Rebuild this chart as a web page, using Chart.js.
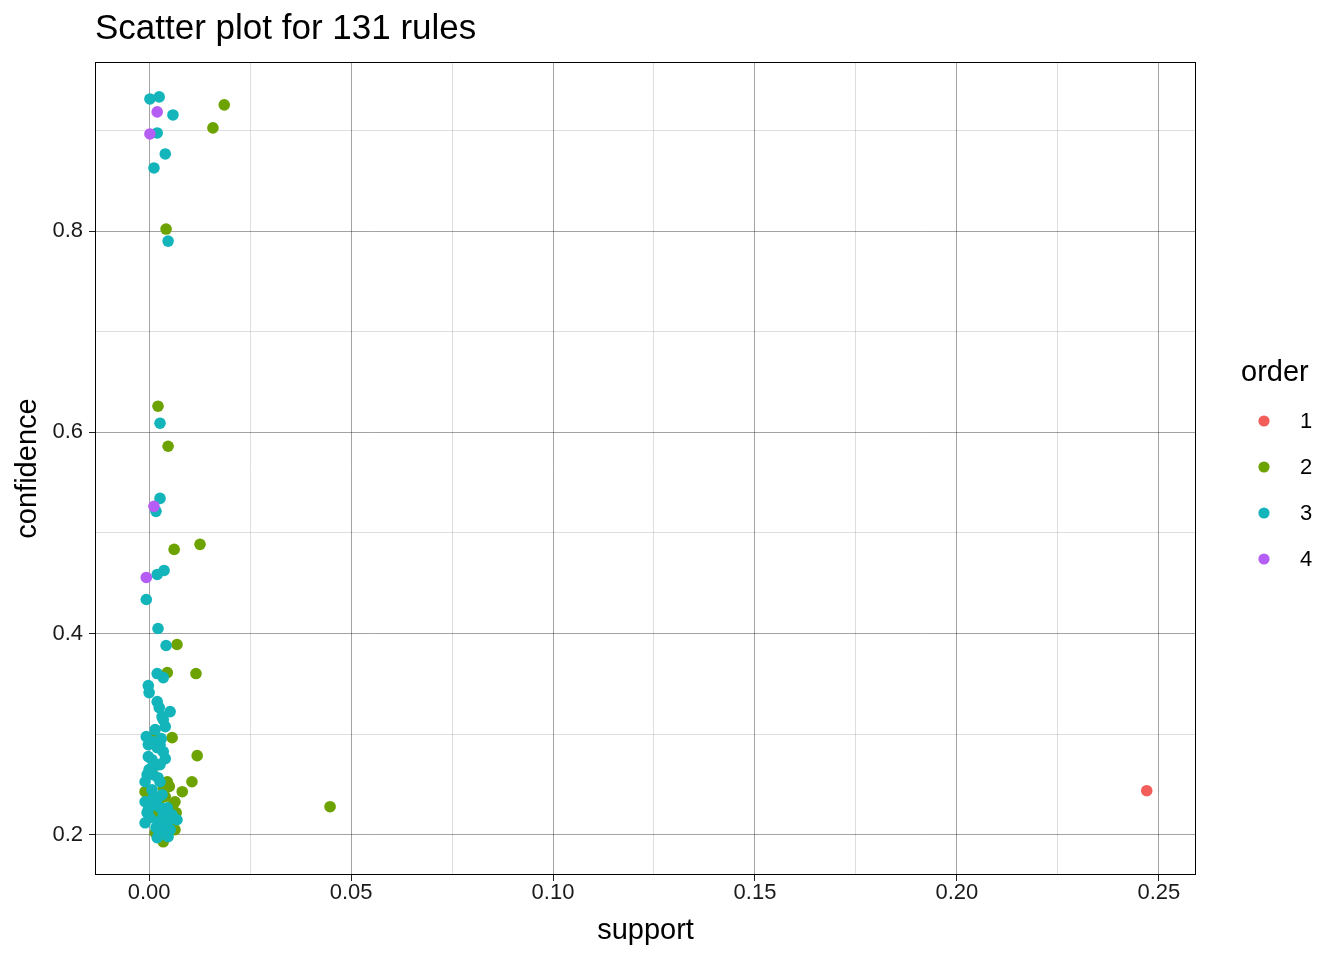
<!DOCTYPE html>
<html>
<head>
<meta charset="utf-8">
<script src="https://cdn.jsdelivr.net/npm/chart.js@4/dist/chart.umd.min.js"></script>
<style>
  body { margin: 0; background: #fff; }
  #wrap { width: 1344px; height: 960px; }
</style>
</head>
<body>
<div id="wrap"><canvas id="scatter"></canvas></div>
<script>
// ========================
// DATA
// ========================
const orderLabels = ["1", "2", "3", "4"];
const orderColors = ["#F35E5A", "#6DA300", "#13B5BB", "#B45EF6"];

const supp1 = [0.2470];
const conf1 = [0.2438];

const supp2 = [0.0186, 0.0158, 0.0042, 0.0022, 0.0047, 0.0062, 0.0126, 0.0069, 0.0045, 0.0116,
  0.0012, 0.0057, 0.0119, 0.0007, 0.0045, 0.0106, 0.0035, 0.0082, 0.0059, 0.0020,
  0.0057, 0.0022, 0.0035, 0.0448, -0.0010, 0.0064, 0.0064, 0.0015, 0.0052, 0.0027,
  0.0047, 0.0002, 0.0067, 0.0040, 0.0030, 0.0010, 0.0050];
const conf2 = [0.9254, 0.9025, 0.8020, 0.6259, 0.5861, 0.4836, 0.4886, 0.3891, 0.3612, 0.3602,
  0.2975, 0.2965, 0.2786, 0.2647, 0.2527, 0.2527, 0.2468, 0.2428, 0.2299, 0.2249,
  0.2149, 0.2020, 0.1930, 0.2279, 0.2428, 0.2328, 0.2050, 0.2020, 0.2219, 0.2358,
  0.2100, 0.2398, 0.2219, 0.2380, 0.2090, 0.2200, 0.2480];

const supp3 = [0.0002, 0.0025, 0.0059, 0.0020, 0.0040, 0.0012, 0.0047, 0.0027, 0.0027, 0.0017,
  0.0037, 0.0020, -0.0007, 0.0022, 0.0042, 0.0020, 0.0035, -0.0002, 0.0000, 0.0020,
  0.0025, 0.0052, 0.0032, 0.0035, 0.0040, -0.0007, 0.0030, 0.0010, -0.0002, 0.0020,
  0.0035, -0.0002, 0.0040, 0.0022, -0.0005, 0.0022, -0.0010, 0.0027, -0.0010, 0.0022,
  -0.0005, 0.0040, 0.0069, -0.0010, 0.0022, 0.0045, 0.0032, 0.0047, 0.0007, 0.0015,
  0.0027, 0.0002, 0.0017, 0.0037, 0.0052, 0.0010, 0.0032, -0.0002, 0.0027, 0.0007,
  0.0015, 0.0027, 0.0010, 0.0035, 0.0020, 0.0045, 0.0057, 0.0000];
const conf3 = [0.9313, 0.9333, 0.9154, 0.8975, 0.8766, 0.8627, 0.7900, 0.6090, 0.5343, 0.5214,
  0.4627, 0.4587, 0.4338, 0.4050, 0.3881, 0.3602, 0.3562, 0.3483, 0.3413, 0.3323,
  0.3264, 0.3224, 0.3174, 0.3144, 0.3075, 0.2975, 0.2955, 0.2925, 0.2896, 0.2866,
  0.2826, 0.2776, 0.2756, 0.2697, 0.2597, 0.2567, 0.2527, 0.2527, 0.2328, 0.2368,
  0.2219, 0.2219, 0.2149, 0.2119, 0.2129, 0.2119, 0.2030, 0.1980, 0.2448, 0.2299,
  0.2269, 0.2169, 0.2070, 0.2100, 0.2050, 0.2368, 0.2398, 0.2249, 0.2697, 0.2746,
  0.3045, 0.2896, 0.2597, 0.2199, 0.1970, 0.2269, 0.2199, 0.2647];

const supp4 = [0.0020, 0.0002, 0.0012, -0.0007];
const conf4 = [0.9184, 0.8965, 0.5264, 0.4557];

const xMajor = [0.00, 0.05, 0.10, 0.15, 0.20, 0.25];
const xMinor = [0.025, 0.075, 0.125, 0.175, 0.225];
const yMajor = [0.2, 0.4, 0.6, 0.8];
const yMinor = [0.3, 0.5, 0.7, 0.9];

// ========================
// HELPERS
// ========================
const FONT = "'Liberation Sans', Arial, Helvetica, sans-serif";
const MAJOR_GRID = "rgba(0,0,0,0.36)";
const MINOR_GRID = "rgba(0,0,0,0.13)";

function toPoints(xs, ys) {
  return xs.map((x, i) => ({ x: x, y: ys[i] }));
}

function isMajor(list, v) {
  return list.some(m => Math.abs(m - v) < 1e-9);
}

const series = [
  toPoints(supp1, conf1),
  toPoints(supp2, conf2),
  toPoints(supp3, conf3),
  toPoints(supp4, conf4)
];

// later groups paint on top, like the reference
const datasets = series.map((pts, i) => ({
  label: orderLabels[i],
  data: pts,
  backgroundColor: orderColors[i],
  borderWidth: 0,
  pointRadius: 5.8,
  pointHoverRadius: 5.8,
  order: orderLabels.length - i
}));

// ========================
// PLUGIN: panel border, title, legend
// ========================
const decor = {
  id: "decor",
  afterDraw(chart) {
    const { ctx, chartArea: a } = chart;
    ctx.save();
    ctx.strokeStyle = "#000";
    ctx.lineWidth = 1;
    ctx.strokeRect(a.left + 0.5, a.top + 0.5, a.right - a.left - 1, a.bottom - a.top - 1);

    ctx.fillStyle = "#000";
    ctx.textBaseline = "alphabetic";
    ctx.textAlign = "left";
    ctx.font = "35px " + FONT;
    ctx.fillText("Scatter plot for 131 rules", 95, 39);

    ctx.font = "29px " + FONT;
    ctx.fillText("order", 1241, 381);

    ctx.font = "22px " + FONT;
    ctx.textBaseline = "middle";
    orderLabels.forEach((lab, i) => {
      const y = 421 + i * 46;
      ctx.fillStyle = orderColors[i];
      ctx.beginPath();
      ctx.arc(1264, y, 5.6, 0, Math.PI * 2);
      ctx.fill();
      ctx.fillStyle = "#000";
      ctx.fillText(lab, 1300, y + 1);
    });
    ctx.restore();
  }
};

// ========================
// CHART
// ========================
const ctx = document.getElementById("scatter").getContext("2d");

new Chart(ctx, {
  type: "scatter",
  data: { datasets },
  options: {
    responsive: true,
    maintainAspectRatio: false,
    animation: false,
    layout: { padding: { top: 62, right: 148, left: 0, bottom: 0 } },
    plugins: {
      legend: { display: false },
      tooltip: { enabled: false }
    },
    scales: {
      x: {
        type: "linear",
        min: -0.0134,
        max: 0.2592,
        afterBuildTicks(scale) {
          scale.ticks = xMajor.concat(xMinor).sort((a, b) => a - b).map(v => ({ value: v }));
        },
        afterFit(scale) { scale.height = 85; },
        ticks: {
          autoSkip: false,
          maxRotation: 0,
          padding: 1,
          color: "#1a1a1a",
          font: { family: FONT, size: 22, lineHeight: 1 },
          callback: v => isMajor(xMajor, v) ? v.toFixed(2) : ""
        },
        grid: {
          drawOnChartArea: true,
          tickLength: 6,
          color: c => (c.tick && isMajor(xMajor, c.tick.value)) ? MAJOR_GRID : MINOR_GRID,
          tickColor: c => (c.tick && isMajor(xMajor, c.tick.value)) ? "#222" : "rgba(0,0,0,0)",
          lineWidth: 1
        },
        border: { display: false },
        title: {
          display: true,
          text: "support",
          color: "#000",
          font: { family: FONT, size: 29 },
          padding: { top: 0, bottom: 12 }
        }
      },
      y: {
        type: "linear",
        min: 0.160,
        max: 0.968,
        afterBuildTicks(scale) {
          scale.ticks = yMajor.concat(yMinor).sort((a, b) => a - b).map(v => ({ value: v }));
        },
        afterFit(scale) { scale.width = 95; },
        ticks: {
          autoSkip: false,
          padding: 6,
          color: "#1a1a1a",
          font: { family: FONT, size: 22 },
          callback: v => isMajor(yMajor, v) ? v.toFixed(1) : ""
        },
        grid: {
          drawOnChartArea: true,
          tickLength: 6,
          color: c => (c.tick && isMajor(yMajor, c.tick.value)) ? MAJOR_GRID : MINOR_GRID,
          tickColor: c => (c.tick && isMajor(yMajor, c.tick.value)) ? "#222" : "rgba(0,0,0,0)",
          lineWidth: 1
        },
        border: { display: false },
        title: {
          display: true,
          text: "confidence",
          color: "#000",
          font: { family: FONT, size: 29 },
          padding: { top: 11, bottom: 0 }
        }
      }
    }
  },
  plugins: [decor]
});
</script>
</body>
</html>
